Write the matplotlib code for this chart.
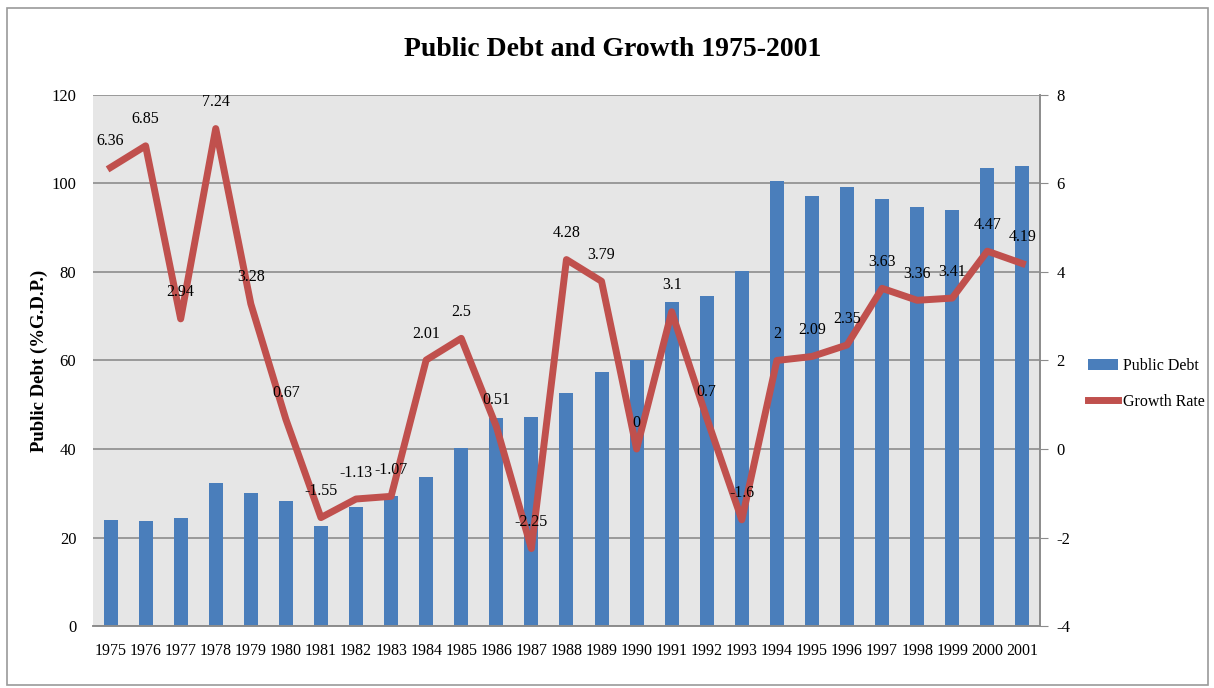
import matplotlib.pyplot as plt
from matplotlib.patches import Rectangle
import numpy as np

years = list(range(1975, 2002))
public_debt = [24.0, 23.7, 24.4, 32.3, 30.1, 28.2, 22.6, 26.9, 29.4, 33.7,
               40.2, 46.9, 47.2, 52.7, 57.4, 60.1, 73.3, 74.6, 80.2, 100.6,
               97.2, 99.2, 96.5, 94.7, 94.0, 103.5, 104.0]
growth_rate = [6.36, 6.85, 2.94, 7.24, 3.28, 0.67, -1.55, -1.13, -1.07, 2.01,
               2.5, 0.51, -2.25, 4.28, 3.79, 0, 3.1, 0.7, -1.6, 2,
               2.09, 2.35, 3.63, 3.36, 3.41, 4.47, 4.19]

plt.rcParams['font.family'] = ['Liberation Serif', 'DejaVu Serif']
plt.rcParams['axes.unicode_minus'] = False

bar_color = '#4a7ebb'
line_color = '#c0504d'

fig = plt.figure(figsize=(12.14, 6.88), dpi=100)
ax = fig.add_axes([0.0766, 0.0901, 0.78, 0.7719])
ax2 = ax.twinx()

x = np.arange(len(years))
ax.set_facecolor('#e6e6e6')
ax.bar(x, public_debt, width=0.4, color=bar_color, zorder=2, label='Public Debt')
ax.set_ylim(0, 120)
ax.set_yticks(range(0, 121, 20))
ax.set_xlim(-0.5, len(years) - 0.5)
ax.set_xticks(x)
ax.set_xticklabels([str(y) for y in years], fontsize=11.5)
ax.yaxis.grid(True, color='#8c8c8c', linewidth=1.2, zorder=1)
ax.set_axisbelow(True)
ax.tick_params(axis='x', length=0, pad=12)
ax.tick_params(axis='y', length=0, labelsize=12, pad=12)
ax.set_ylabel('Public Debt (%G.D.P.)', fontsize=13.5, fontweight='bold')
ax.yaxis.set_label_coords(-0.048, 0.5)

ax2.plot(x, growth_rate, color=line_color, linewidth=5, zorder=3, label='Growth Rate')
ax2.set_ylim(-4, 8)
ax2.set_yticks(range(-4, 9, 2))
ax2.tick_params(axis='y', length=6, color='#8c8c8c', labelsize=12, pad=6)

for xi, g in zip(x, growth_rate):
    ax2.annotate('{:g}'.format(g), (xi, g), xytext=(0, 19), textcoords='offset points',
                 ha='center', va='center', fontsize=11.5, zorder=4)

for a in (ax, ax2):
    for side in ('top', 'left'):
        a.spines[side].set_visible(False)
    a.spines['right'].set_color('#8c8c8c')
    a.spines['bottom'].set_color('#8c8c8c')
    a.spines['right'].set_linewidth(1.2)
    a.spines['bottom'].set_linewidth(1.2)

fig.text(0.505, 0.928, 'Public Debt and Growth 1975-2001', fontsize=20,
         fontweight='bold', ha='center', va='center')

handles = ax.get_legend_handles_labels()[0] + ax2.get_legend_handles_labels()[0]
labels = ['Public Debt', 'Growth Rate']
fig.legend(handles, labels, loc='center left', bbox_to_anchor=(0.884, 0.442),
           frameon=False, fontsize=11.5, handlelength=1.9, labelspacing=1.25,
           handletextpad=0.3)

# thin frame around the whole chart
fig.patches.append(Rectangle((0.006, 0.005), 0.989, 0.983, transform=fig.transFigure,
                             fill=False, edgecolor='#9a9a9a', linewidth=1.2))

fig.savefig('out.png', dpi=100)
